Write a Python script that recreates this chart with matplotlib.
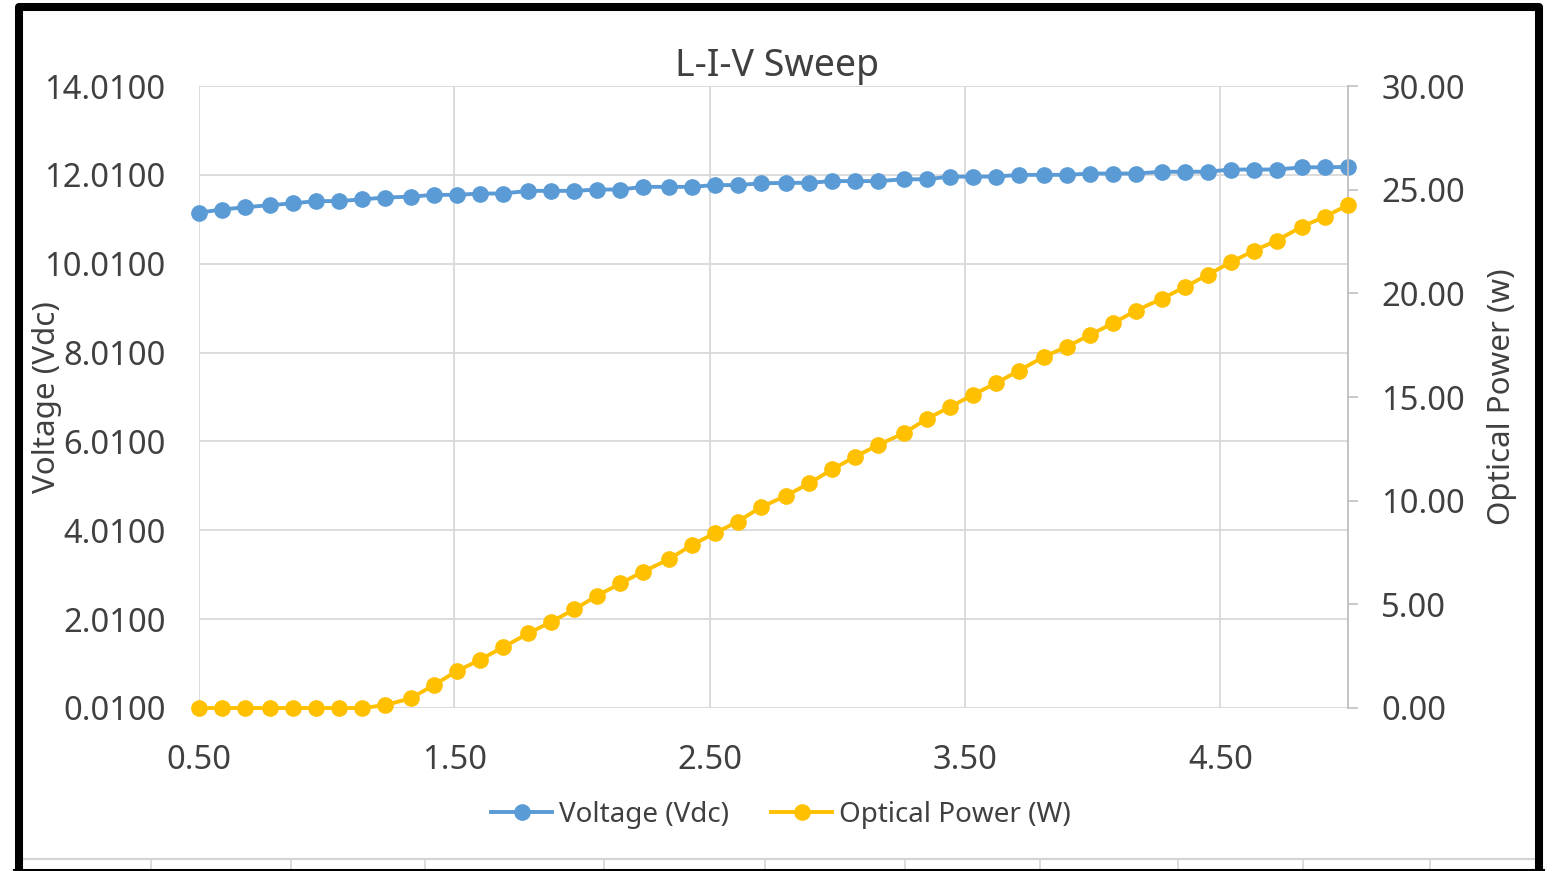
"""L-I-V sweep chart: laser diode voltage and optical power versus drive current.

Voltage sits on the primary (left) axis, optical power on a secondary
(right) axis, in the usual spreadsheet-export look.
"""

import matplotlib

matplotlib.use("Agg")

import matplotlib.pyplot as plt
from matplotlib.lines import Line2D
from matplotlib.ticker import FormatStrFormatter, MultipleLocator

# ---------------------------------------------------------------------------
# Measured sweep
# ---------------------------------------------------------------------------
current_a = [
    0.50, 0.59, 0.68, 0.78, 0.87, 0.96, 1.05, 1.14, 1.23, 1.33,
    1.42, 1.51, 1.60, 1.69, 1.79, 1.88, 1.97, 2.06, 2.15, 2.24,
    2.34, 2.43, 2.52, 2.61, 2.70, 2.80, 2.89, 2.98, 3.07, 3.16,
    3.26, 3.35, 3.44, 3.53, 3.62, 3.71, 3.81, 3.90, 3.99, 4.08,
    4.17, 4.27, 4.36, 4.45, 4.54, 4.63, 4.72, 4.82, 4.91, 5.00,
]
voltage_vdc = [
    11.16, 11.23, 11.28, 11.33, 11.37, 11.42, 11.42, 11.46, 11.50, 11.52,
    11.56, 11.56, 11.59, 11.59, 11.65, 11.65, 11.65, 11.68, 11.68, 11.74,
    11.74, 11.74, 11.78, 11.78, 11.82, 11.83, 11.83, 11.87, 11.87, 11.87,
    11.91, 11.91, 11.97, 11.97, 11.97, 12.01, 12.01, 12.01, 12.04, 12.04,
    12.04, 12.08, 12.08, 12.08, 12.13, 12.13, 12.13, 12.18, 12.18, 12.19,
]
optical_power_w = [
    0.00, 0.00, 0.00, 0.00, 0.00, 0.00, 0.00, 0.00, 0.14, 0.47,
    1.11, 1.78, 2.32, 2.93, 3.60, 4.16, 4.76, 5.42, 6.01, 6.58,
    7.17, 7.86, 8.43, 8.99, 9.68, 10.24, 10.84, 11.51, 12.12, 12.69,
    13.25, 13.94, 14.51, 15.10, 15.66, 16.26, 16.95, 17.43, 18.00, 18.56,
    19.17, 19.73, 20.30, 20.89, 21.49, 22.05, 22.54, 23.22, 23.70, 24.26,
]

# Axis ranges / tick steps
x_range = (0.5, 5.0)
v_range = (0.01, 14.01)
p_range = (0.0, 30.0)

# ---------------------------------------------------------------------------
# Style
# ---------------------------------------------------------------------------
W_PX, H_PX = 1552, 871
BLUE = "#5B9BD5"
GOLD = "#FFC000"
GRID = "#D9D9D9"
TEXT = "#404040"

plt.rcParams.update(
    {
        "font.family": ["Noto Sans", "DejaVu Sans"],
        "font.size": 23.5,
        "text.color": TEXT,
        "xtick.color": TEXT,
        "ytick.color": TEXT,
        "figure.facecolor": "white",
        "axes.facecolor": "white",
    }
)


def fx(px):
    """Pixel column -> figure fraction."""
    return px / W_PX


def fy(py):
    """Pixel row (from top) -> figure fraction."""
    return 1.0 - py / H_PX


fig = plt.figure(figsize=(W_PX / 100, H_PX / 100), dpi=100)

# plot area
ax = fig.add_axes([fx(199), fy(708), fx(1348) - fx(199), fy(86) - fy(708)])
ax2 = ax.twinx()

line_kw = dict(lw=2.8, marker="o", markersize=11, clip_on=False)
(l_v,) = ax.plot(current_a, voltage_vdc, color=BLUE, label="Voltage (Vdc)",
                 zorder=3, **line_kw)
(l_p,) = ax2.plot(current_a, optical_power_w, color=GOLD,
                  label="Optical Power (W)", zorder=3, **line_kw)

# primary axis
ax.set_xlim(*x_range)
ax.set_ylim(*v_range)
ax.xaxis.set_major_locator(MultipleLocator(1.0, offset=0.5))
ax.yaxis.set_major_locator(MultipleLocator(2.0, offset=0.01))
ax.xaxis.set_major_formatter(FormatStrFormatter("%.2f"))
ax.yaxis.set_major_formatter(FormatStrFormatter("%.4f"))
ax.tick_params(axis="x", length=0, pad=26)
ax.tick_params(axis="y", length=0, pad=24)
ax.grid(True, color=GRID, lw=1.3)
ax.set_axisbelow(True)
for side in ("top", "bottom", "left", "right"):
    ax.spines[side].set_visible(False)

# secondary axis
ax2.set_ylim(*p_range)
ax2.yaxis.set_major_locator(MultipleLocator(5.0))
ax2.yaxis.set_major_formatter(FormatStrFormatter("%.2f"))
ax2.tick_params(axis="y", length=7, width=1.2, color="#BFBFBF", pad=17)
for side in ("top", "bottom", "left"):
    ax2.spines[side].set_visible(False)
ax2.spines["right"].set_color("#BFBFBF")
ax2.spines["right"].set_linewidth(1.3)

# titles
fig.text(fx(777), fy(76), "L-I-V Sweep", ha="center", va="baseline",
         fontsize=27)
fig.text(fx(47), fy(397), "Voltage (Vdc)", rotation=90, ha="center",
         va="center", fontsize=22.5)
fig.text(fx(1502), fy(397), "Optical Power (w)", rotation=90, ha="center",
         va="center", fontsize=22.5)

fig.legend(
    handles=[l_v, l_p],
    loc="center",
    bbox_to_anchor=(fx(781), fy(815)),
    ncol=2,
    frameon=False,
    fontsize=20,
    handlelength=2.2,
    handletextpad=0.25,
    columnspacing=1.5,
)

# ---------------------------------------------------------------------------
# Frame and the sheet cells peeking in under the chart
# ---------------------------------------------------------------------------
cell_edges = [151, 291, 425, 604, 765, 905, 1040, 1178, 1303, 1430]
fig.add_artist(Line2D([fx(22), fx(1535)], [fy(859), fy(859)],
                      color="#D4D4D4", lw=1.6))
for cx in cell_edges:
    fig.add_artist(Line2D([fx(cx), fx(cx)], [fy(860), fy(869)],
                          color="#D4D4D4", lw=1.2))
fig.add_artist(Line2D([fx(14), fx(1543)], [fy(870), fy(870)],
                      color="black", lw=2.2))
fig.add_artist(Line2D([fx(18.5), fx(18.5), fx(1539), fx(1539)],
                      [fy(875), fy(7.5), fy(7.5), fy(875)],
                      color="black", lw=5.8, solid_joinstyle="round"))

fig.savefig("out.png", dpi=100)
plt.close(fig)
